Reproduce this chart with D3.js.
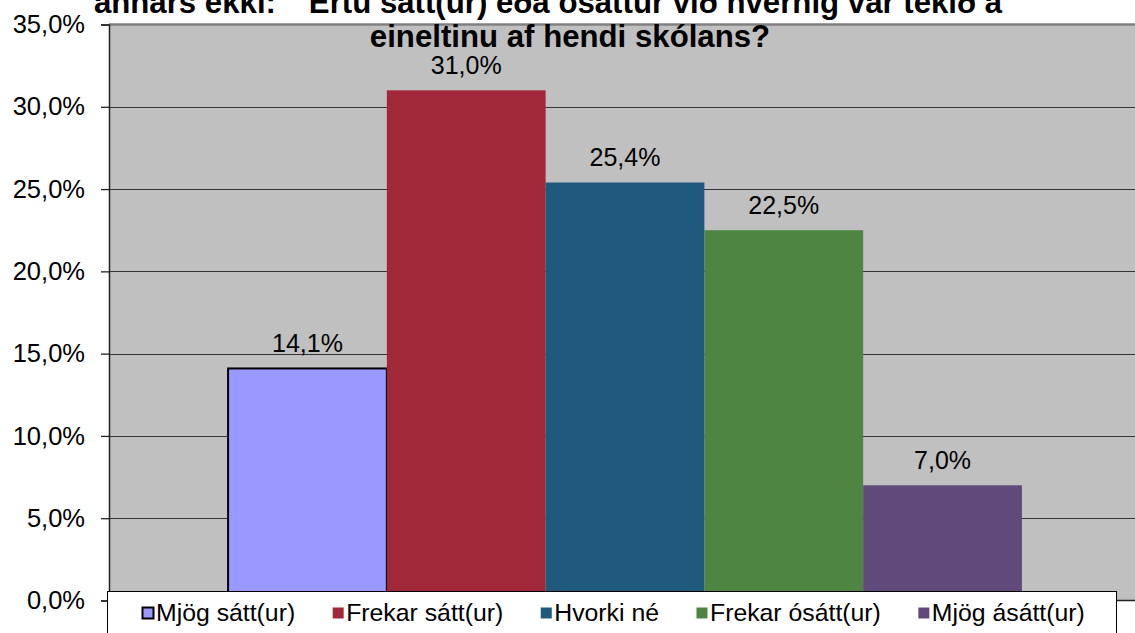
<!DOCTYPE html>
<html>
<head>
<meta charset="utf-8">
<script src="https://cdn.jsdelivr.net/npm/d3@7"></script>
<style>
  html, body { margin: 0; padding: 0; background: #fff; }
  svg { display: block; font-family: Arial, "Liberation Sans", sans-serif; }
</style>
</head>
<body>
<svg id="chart" width="1135" height="633"></svg>
<script>
const titleLines = ["annars ekki:  \u201CErtu sátt(ur) eða ósáttur við hvernig var tekið á", "eineltinu af hendi skólans?"];
const categories = ["Mjög sátt(ur)", "Frekar sátt(ur)", "Hvorki né", "Frekar ósátt(ur)", "Mjög ásátt(ur)"];
const values = [14.1, 31.0, 25.4, 22.5, 7.0];
const colors = ["#9999FF", "#A12838", "#1F5A7C", "#4E8542", "#604A7B"];
const yTicks = [0, 5, 10, 15, 20, 25, 30, 35];

const fmt = v => v.toFixed(1).replace(".", ",") + "%";

const svg = d3.select("#chart");
const plot = { left: 109, right: 1141, top: 24.5, bottom: 600.5 };

const y = d3.scaleLinear().domain([0, 35]).range([plot.bottom, plot.top]);
const x = d3.scaleBand().domain(categories).range([plot.left, plot.right])
  .paddingInner(0).paddingOuter(0.75);

// plot area
svg.append("rect")
  .attr("x", plot.left).attr("y", plot.top)
  .attr("width", plot.right - plot.left).attr("height", plot.bottom - plot.top)
  .attr("fill", "#C0C0C0");

// gridlines
svg.append("g").selectAll("line")
  .data(yTicks.filter(t => t > 0 && t < 35))
  .join("line")
  .attr("x1", plot.left).attr("x2", plot.right)
  .attr("y1", d => Math.round(y(d)) + 0.5).attr("y2", d => Math.round(y(d)) + 0.5)
  .attr("stroke", "#333").attr("stroke-width", 1.2);

// top border
svg.append("line")
  .attr("x1", plot.left).attr("x2", plot.right)
  .attr("y1", plot.top).attr("y2", plot.top)
  .attr("stroke", "#808080").attr("stroke-width", 2.5);

// bars
svg.append("g").selectAll("rect")
  .data(values)
  .join("rect")
  .attr("x", (d, i) => x(categories[i]))
  .attr("y", d => y(d))
  .attr("width", x.bandwidth())
  .attr("height", d => y(0) - y(d))
  .attr("fill", (d, i) => colors[i])
  .attr("stroke", (d, i) => i === 0 ? "#000" : "none")
  .attr("stroke-width", 2);

// y axis
const yAxis = d3.axisLeft(y).tickValues(yTicks).tickFormat(fmt).tickSize(8).tickPadding(16);
const gy = svg.append("g").attr("transform", `translate(${plot.left},0)`).call(yAxis);
gy.select(".domain").attr("stroke", "#222").attr("stroke-width", 1.5);
gy.selectAll(".tick line").attr("stroke", "#222").attr("stroke-width", 1.3);
gy.selectAll(".tick text").attr("font-size", 25.5).attr("fill", "#000")
  .attr("font-family", "Arial, 'Liberation Sans', sans-serif");

// x axis baseline
svg.append("line")
  .attr("x1", plot.left).attr("x2", plot.right)
  .attr("y1", plot.bottom).attr("y2", plot.bottom)
  .attr("stroke", "#222").attr("stroke-width", 1.5);

// data labels
svg.append("g").selectAll("text")
  .data(values)
  .join("text")
  .attr("x", (d, i) => x(categories[i]) + x.bandwidth() / 2)
  .attr("y", d => y(d) - 16)
  .attr("text-anchor", "middle")
  .attr("font-size", 25)
  .attr("fill", "#000")
  .text(d => fmt(d));

// title
const titleX = [548, 570];
svg.append("g").selectAll("text")
  .data(titleLines)
  .join("text")
  .attr("x", (d, i) => titleX[i])
  .attr("y", (d, i) => 13 + i * 34)
  .attr("text-anchor", "middle")
  .attr("font-size", 31.2)
  .attr("font-weight", "bold")
  .attr("fill", "#000")
  .attr("xml:space", "preserve")
  .text(d => d);

// legend
const lg = svg.append("g");
lg.append("rect")
  .attr("x", 107.5).attr("y", 591.5)
  .attr("width", 1009).attr("height", 60)
  .attr("fill", "#fff").attr("stroke", "#000").attr("stroke-width", 1);

let lx = 142;
categories.forEach((c, i) => {
  lg.append("rect")
    .attr("x", lx + 0.5).attr("y", 607.5)
    .attr("width", 11).attr("height", 11)
    .attr("fill", colors[i])
    .attr("stroke", i === 0 ? "#000" : "none").attr("stroke-width", 2);
  const t = lg.append("text")
    .attr("x", lx + 14).attr("y", 621)
    .attr("font-size", 24.8).attr("fill", "#000")
    .text(c);
  const w = t.node().getComputedTextLength();
  lx += 14 + w + 37;
});
</script>
</body>
</html>
